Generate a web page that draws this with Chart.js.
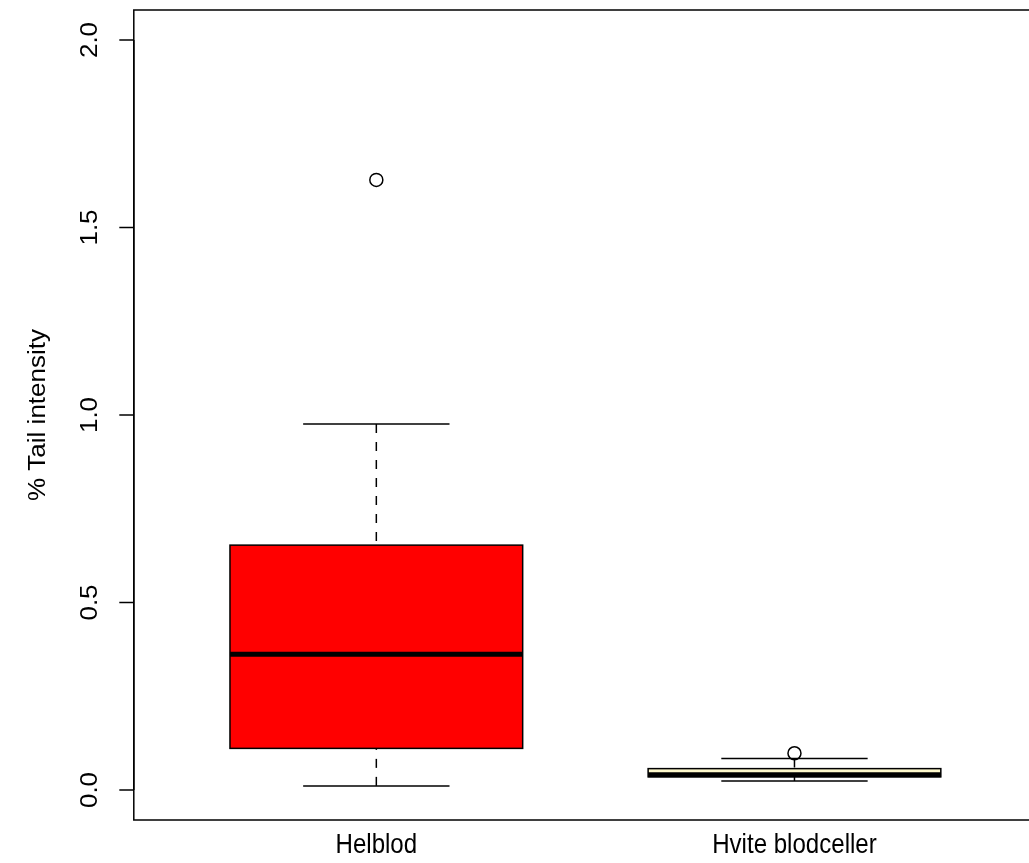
<!DOCTYPE html>
<html>
<head>
<meta charset="utf-8">
<script src="https://cdn.jsdelivr.net/npm/chart.js@4/dist/chart.umd.min.js"></script>
<style>
  html, body { margin: 0; padding: 0; overflow: hidden; background: #ffffff; }
  #wrap { position: relative; width: 1045px; height: 863px; }
</style>
</head>
<body>
<div id="wrap"><canvas id="c" width="1045" height="863"></canvas></div>
<script>
// Box-plot statistics per group
const categories  = ['Helblod', 'Hvite blodceller'];
const whiskerLow  = [0.011, 0.024];
const q1          = [0.111, 0.035];
const median      = [0.362, 0.041];
const q3          = [0.653, 0.057];
const whiskerHigh = [0.976, 0.084];
const outliers    = [[1.627], [0.098]];
const boxColors   = ['#FF0000', '#FFFACD'];

// Axis ticks
const yTicks      = [0, 0.5, 1, 1.5, 2];
const yTickLabels = ['0.0', '0.5', '1.0', '1.5', '2.0'];
const yTitle      = '% Tail intensity';

const FAMILY = '"Liberation Sans", Arial, Helvetica, sans-serif';
const BOX_HALF = 0.35;   // half box width in x units
const CAP_HALF = 0.175;  // half whisker-cap width in x units

const outlierPoints = [];
outliers.forEach((vals, i) => vals.forEach(v => outlierPoints.push({ x: i + 1, y: v })));

function line(ctx, x1, y1, x2, y2) {
  ctx.beginPath();
  ctx.moveTo(x1, y1);
  ctx.lineTo(x2, y2);
  ctx.stroke();
}

// text rotated to read bottom-to-top, slightly narrowed glyphs
function vText(ctx, str, px, py, size) {
  ctx.save();
  ctx.translate(px, py);
  ctx.rotate(-Math.PI / 2);
  ctx.scale(1, 0.92);
  ctx.font = size + 'px ' + FAMILY;
  ctx.textAlign = 'center';
  ctx.textBaseline = 'alphabetic';
  ctx.fillText(str, 0, 0);
  ctx.restore();
}

const boxPlot = {
  id: 'boxPlot',
  beforeDatasetsDraw(chart) {
    const { ctx, scales: { x, y } } = chart;
    ctx.save();
    ctx.strokeStyle = '#000000';
    categories.forEach((cat, i) => {
      const c  = i + 1;
      const xc = x.getPixelForValue(c);
      const xl = x.getPixelForValue(c - BOX_HALF);
      const xr = x.getPixelForValue(c + BOX_HALF);
      const cl = x.getPixelForValue(c - CAP_HALF);
      const cr = x.getPixelForValue(c + CAP_HALF);

      // dashed whiskers, drawn from the caps toward the box
      ctx.lineWidth = 1.5;
      ctx.setLineDash([9, 9]);
      line(ctx, xc, y.getPixelForValue(whiskerHigh[i]), xc, y.getPixelForValue(q3[i]));
      line(ctx, xc, y.getPixelForValue(whiskerLow[i]), xc, y.getPixelForValue(q1[i]));
      ctx.setLineDash([]);

      // whisker caps
      line(ctx, cl, y.getPixelForValue(whiskerHigh[i]), cr, y.getPixelForValue(whiskerHigh[i]));
      line(ctx, cl, y.getPixelForValue(whiskerLow[i]), cr, y.getPixelForValue(whiskerLow[i]));

      // box
      const yt = y.getPixelForValue(q3[i]);
      const yb = y.getPixelForValue(q1[i]);
      ctx.fillStyle = boxColors[i];
      ctx.fillRect(xl, yt, xr - xl, yb - yt);
      ctx.strokeRect(xl, yt, xr - xl, yb - yt);

      // median
      ctx.lineWidth = 5;
      ctx.lineCap = 'butt';
      line(ctx, xl, y.getPixelForValue(median[i]), xr, y.getPixelForValue(median[i]));
    });
    ctx.restore();
  },
  afterDraw(chart) {
    const { ctx, scales: { x, y }, chartArea: a } = chart;
    ctx.save();
    ctx.strokeStyle = '#000000';
    ctx.fillStyle = '#000000';
    ctx.lineWidth = 1.5;

    // frame around the plotting region
    ctx.strokeRect(a.left, a.top, a.right - a.left, a.bottom - a.top);

    // y axis line, ticks and labels
    const y0 = y.getPixelForValue(yTicks[0]);
    const y1 = y.getPixelForValue(yTicks[yTicks.length - 1]);
    line(ctx, a.left, y0, a.left, y1);
    yTicks.forEach((t, k) => {
      const py = y.getPixelForValue(t);
      line(ctx, a.left - 14.5, py, a.left, py);
      vText(ctx, yTickLabels[k], a.left - 36.5, py, 26);
    });

    // y axis title
    vText(ctx, yTitle, 45, (a.top + a.bottom) / 2, 26);

    // category labels
    categories.forEach((cat, i) => {
      ctx.save();
      ctx.translate(x.getPixelForValue(i + 1), 845);
      ctx.scale(0.86, 1);
      ctx.font = '28px ' + FAMILY;
      ctx.textAlign = 'center';
      ctx.textBaseline = 'middle';
      ctx.fillText(cat, 0, 0);
      ctx.restore();
    });
    ctx.restore();
  }
};

new Chart(document.getElementById('c'), {
  type: 'scatter',
  data: {
    datasets: [{
      label: 'outliers',
      data: outlierPoints,
      pointStyle: 'circle',
      pointRadius: 6.5,
      pointHoverRadius: 6.5,
      borderColor: '#000000',
      borderWidth: 1.5,
      backgroundColor: 'rgba(0,0,0,0)'
    }]
  },
  options: {
    responsive: false,
    animation: false,
    devicePixelRatio: 1,
    layout: { padding: { left: 133.8, right: 7.3, top: 10, bottom: 43 } },
    plugins: { legend: { display: false }, tooltip: { enabled: false } },
    scales: {
      x: { type: 'linear', min: 0.42, max: 2.58, display: false },
      y: { type: 'linear', min: -0.08, max: 2.08, display: false }
    }
  },
  plugins: [boxPlot]
});
</script>
</body>
</html>
